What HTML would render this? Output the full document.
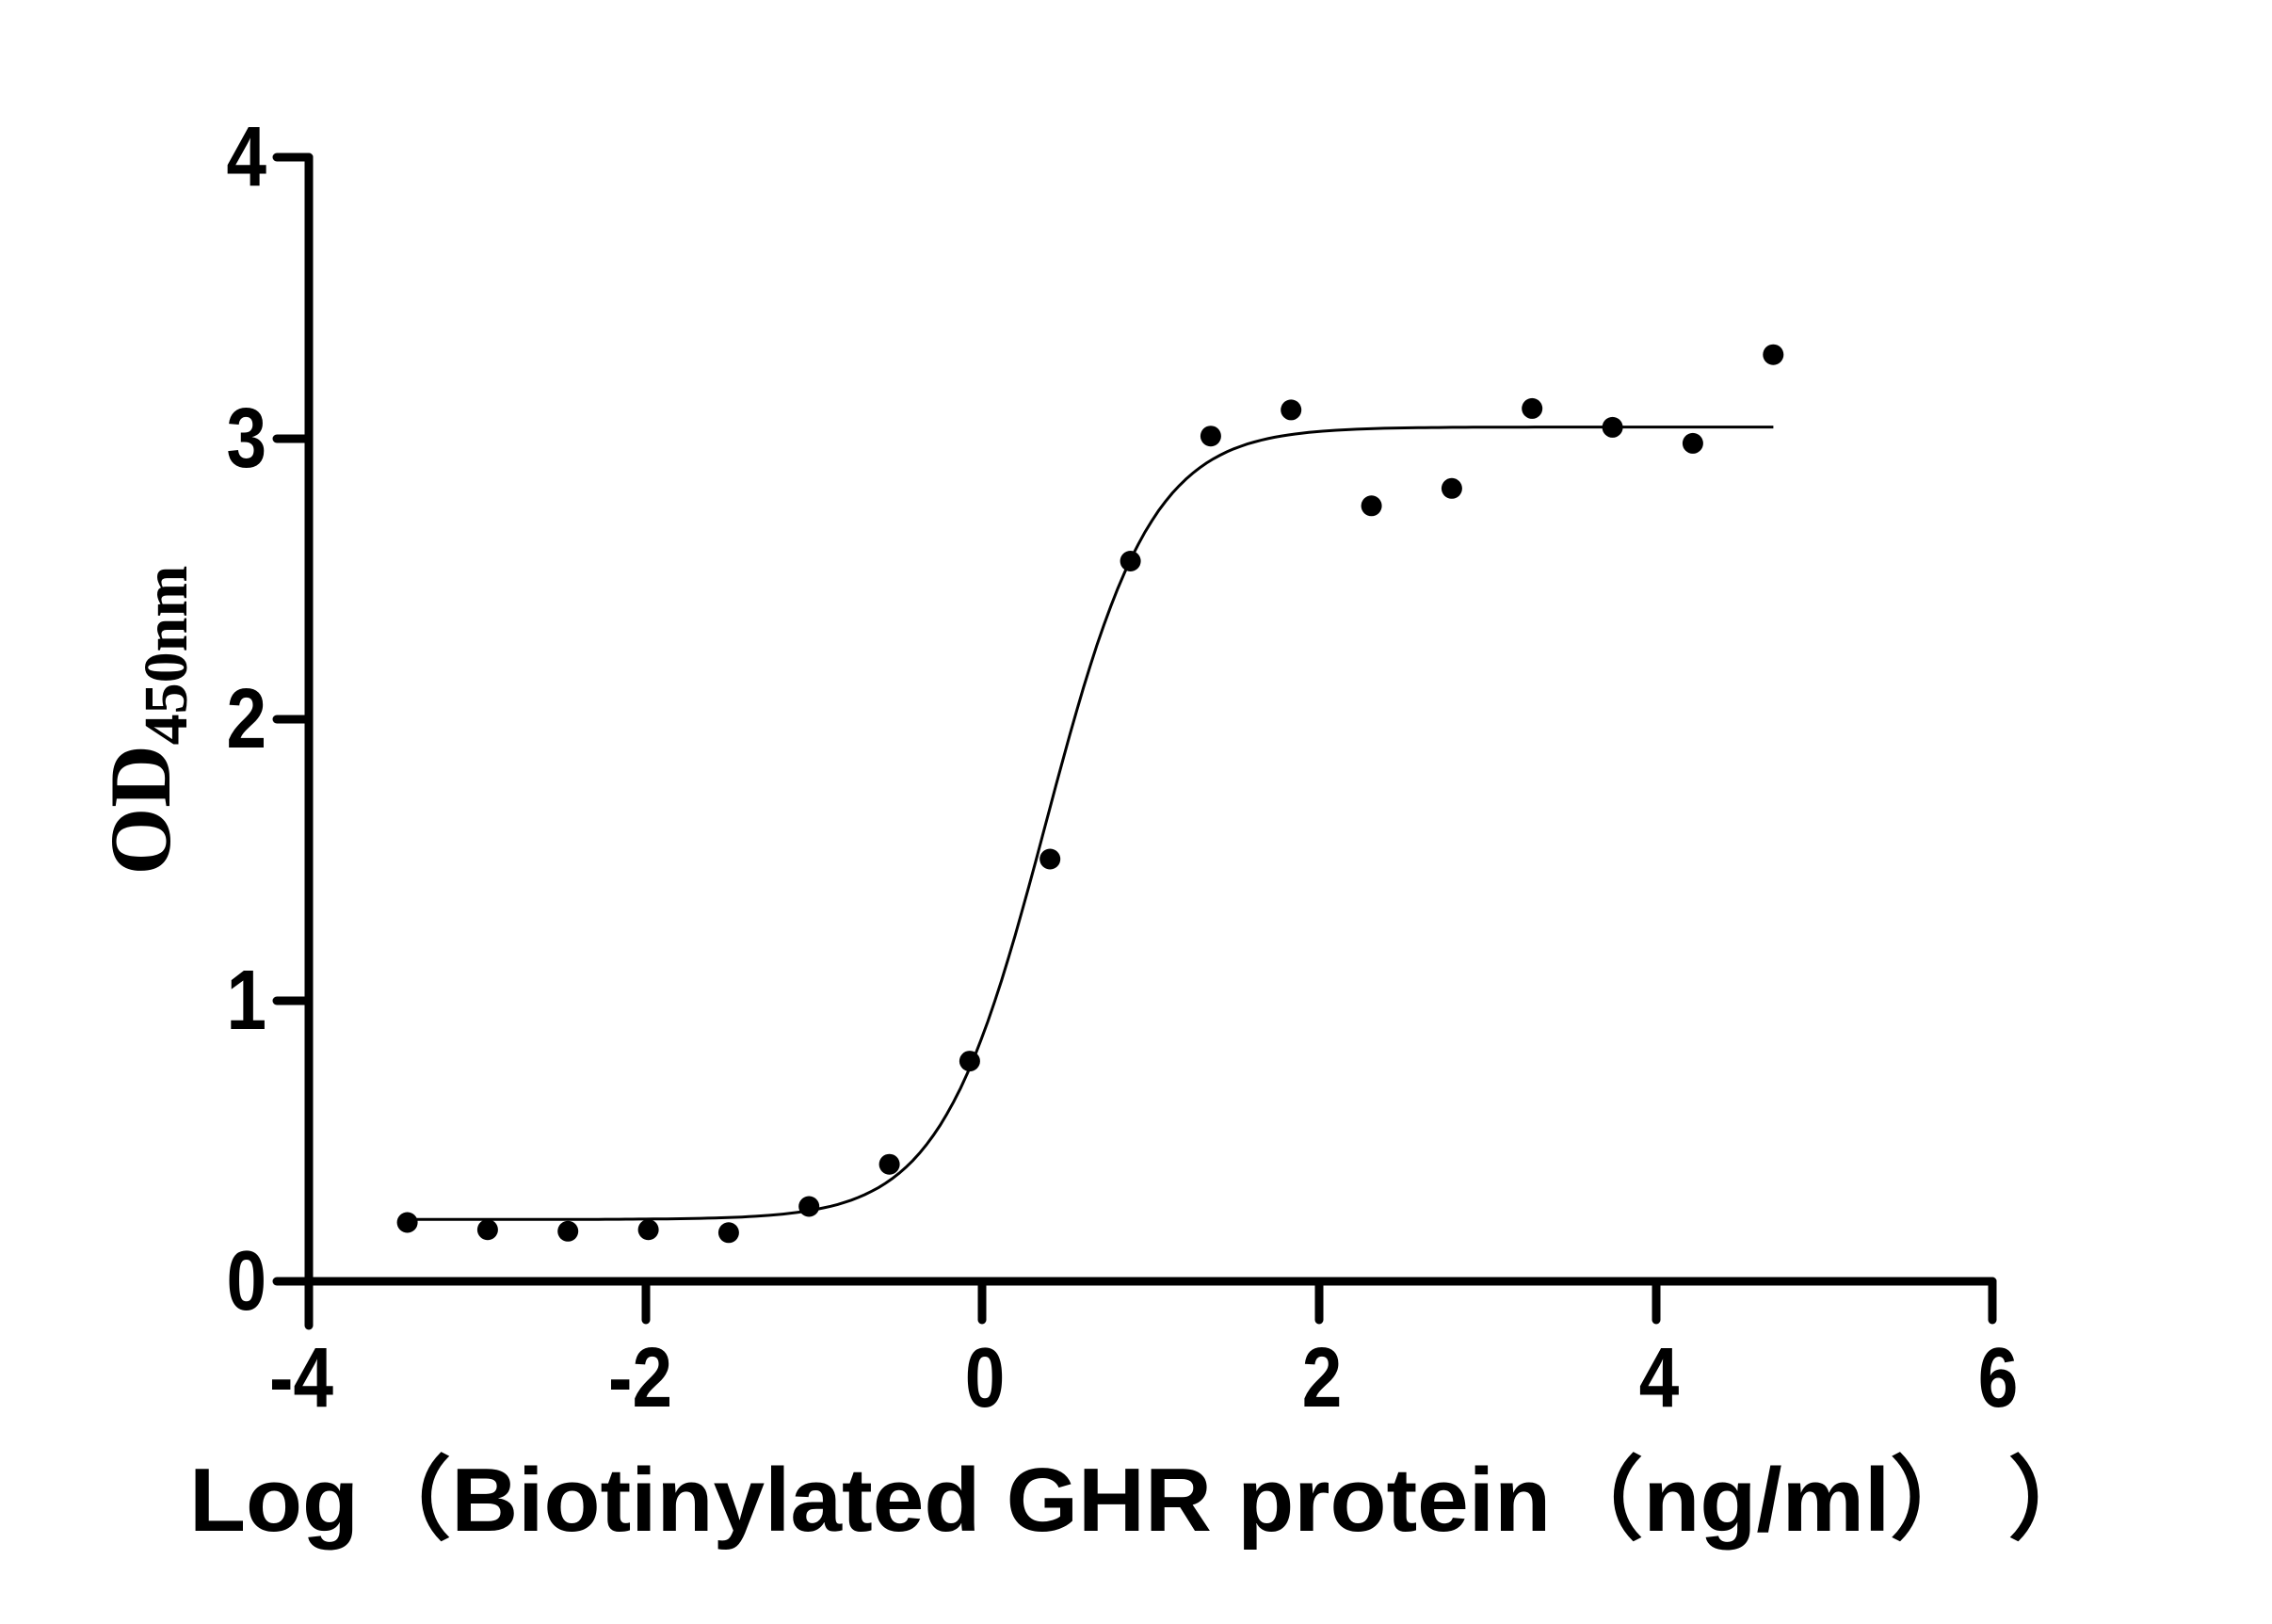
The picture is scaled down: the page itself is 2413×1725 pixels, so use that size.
<!DOCTYPE html>
<html><head><meta charset="utf-8"><style>html,body{margin:0;padding:0;background:#fff}svg{display:block}</style></head>
<body>
<svg id="s" width="2413" height="1725" xmlns="http://www.w3.org/2000/svg">
<g stroke="#000" stroke-width="9" stroke-linecap="round" fill="none">
<line x1="328" y1="167" x2="328" y2="1408"/>
<line x1="294" y1="1361" x2="2116" y2="1361"/>
<line x1="294" y1="167" x2="328" y2="167"/>
<line x1="294" y1="466" x2="328" y2="466"/>
<line x1="294" y1="764" x2="328" y2="764"/>
<line x1="294" y1="1063" x2="328" y2="1063"/>
<line x1="686" y1="1361" x2="686" y2="1402"/>
<line x1="1043" y1="1361" x2="1043" y2="1402"/>
<line x1="1401" y1="1361" x2="1401" y2="1402"/>
<line x1="1759" y1="1361" x2="1759" y2="1402"/>
<line x1="2116" y1="1361" x2="2116" y2="1402"/>
</g>
<g font-family="Liberation Sans, sans-serif" font-weight="bold" font-size="90" fill="#000">
<g text-anchor="end">
<text transform="translate(283,197) scale(0.85,1)">4</text>
<text transform="translate(283,496) scale(0.85,1)">3</text>
<text transform="translate(283,794) scale(0.85,1)">2</text>
<text transform="translate(283,1093) scale(0.85,1)">1</text>
<text transform="translate(283,1391) scale(0.85,1)">0</text>
</g>
<g text-anchor="middle">
<text transform="translate(320,1494) scale(0.85,1)">-4</text>
<text transform="translate(680,1494) scale(0.85,1)">-2</text>
<text transform="translate(1046,1494) scale(0.85,1)">0</text>
<text transform="translate(1404,1494) scale(0.85,1)">2</text>
<text transform="translate(1762,1494) scale(0.85,1)">4</text>
<text transform="translate(2122,1494) scale(0.85,1)">6</text>
</g>
<text x="201" y="1626" font-size="96" textLength="2030" lengthAdjust="spacingAndGlyphs">Log（Biotinylated GHR protein（ng/ml）  ）</text>
</g>
<text transform="translate(180,765) rotate(-90)" text-anchor="middle" font-family="Liberation Serif, serif" font-weight="bold" font-size="92">OD<tspan font-size="66" dy="18">450nm</tspan></text>
<path id="curve" fill="none" stroke="#000" stroke-width="3"/>
<g id="dots" fill="#000"></g>
</svg>
<script>
var X=function(x){return 327+(x+4)*178.9},Y=function(y){return 1361-y*298.5};
var d="";for(var i=0;i<=200;i++){var x=-3.41+i*(4.7+3.41)/200;var y=0.22+2.82/(1+Math.pow(10,(0.381-x)*1.386));d+=(i?"L":"M")+X(x).toFixed(1)+" "+Y(y).toFixed(1);}
document.getElementById("curve").setAttribute("d",d);
var py=[841,846,847,846,848,830,801,730,591,386,300,282,348,336,281,294,305,244];
var g=document.getElementById("dots"),h="";
for(var i=0;i<py.length;i++){var x=-3.41+0.477*i;h+='<circle cx="'+X(x).toFixed(1)+'" cy="'+(py[i]*1.544).toFixed(1)+'" r="11"/>';}
g.innerHTML=h;
</script>
</body></html>
